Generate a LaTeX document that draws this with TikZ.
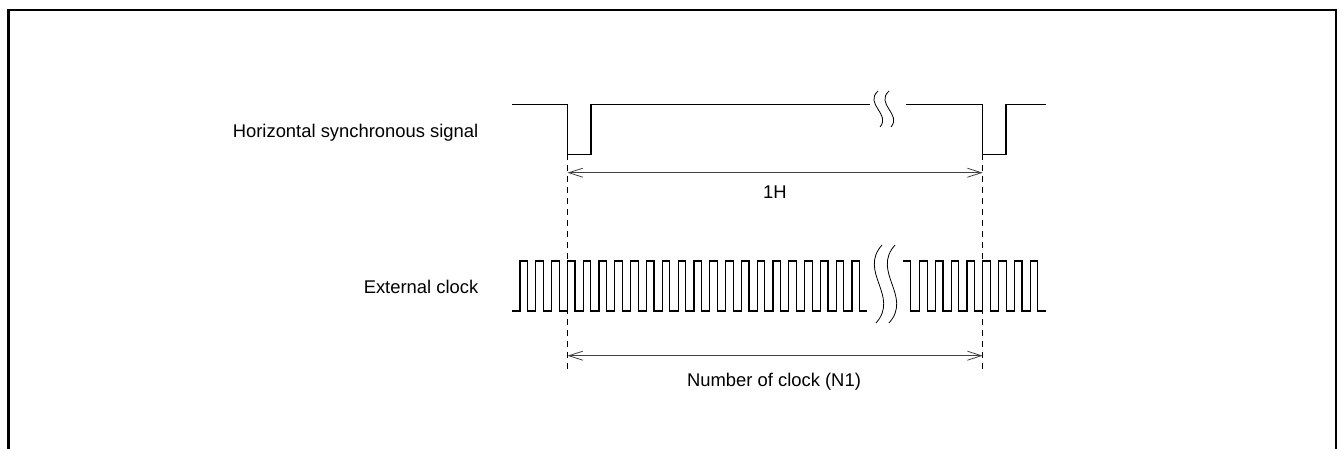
\documentclass[tikz,border=0pt]{standalone}
\usepackage{fontspec}
\setmainfont{Liberation Sans}
\usetikzlibrary{arrows.meta}
\tikzset{
  signal/.style={line width=1.2pt},
  guide/.style={line width=0.9pt,dash pattern=on 6pt off 5pt},
  span/.style={line width=0.8pt,black!75,
    {Straight Barb[length=14pt,width=9pt]}-{Straight Barb[length=14pt,width=9pt]}},
  breakmark/.style={line width=0.8pt},
}
\begin{document}
\begin{tikzpicture}[x=1pt,y=-1pt,font=\fontsize{18.4}{21}\selectfont]
  \useasboundingbox (0,0) rectangle (1339,448);
  \draw[line width=2.2pt] (8.5,10) rectangle (1336,470);
  %% Labels
  \node[anchor=base east,inner sep=0pt] (hsync) at (478.5,137.3) {Horizontal synchronous signal};
  \node[anchor=base east,inner sep=0pt] (extclk) at (478.5,293) {External clock};
  %% Horizontal synchronous signal
  \draw[signal] (512.3,104.3) -- (567.5,104.3) -- (567.5,154.3) -- (591,154.3)
    -- (591,104.3) -- (870,104.3);
  \draw[signal] (905.7,104.3) -- (982.7,104.3) -- (982.7,154.3) -- (1006,154.3)
    -- (1006,104.3) -- (1045.7,104.3);
  \foreach \dx in {0,11}
    \draw[breakmark,xshift=\dx] (878,91) .. controls (864,104) and (891,114) .. (880,127);
  %% External clock
  \draw[signal] (512,311) \foreach \k in {0,...,21} {
      -- ({520+15.81*\k},311) -- ++(0,-50) -- ++(7.6,0) -- ++(0,50) } -- (867,311);
  \draw[signal] (903,261) -- (910.7,261) -- (910.7,311) \foreach \k in {0,...,7} {
      -- ({919.5+15.8*\k},311) -- ++(0,-50) -- ++(7.6,0) -- ++(0,50) } -- (1046,311);
  \foreach \dx in {0,13}
    \draw[breakmark,xshift=\dx] (882,245) .. controls (858,272) and (900,296) .. (876,323);
  %% Guides
  \coordinate (top1) at (567.5,154.3);
  \coordinate (top2) at (982.7,154.3);
  \coordinate (bot1) at (567.5,372);
  \coordinate (bot2) at (982.7,372);
  \draw[guide] (top1) -- (bot1);
  \draw[guide] (top2) -- (bot2);
  %% Spans
  \coordinate (h1) at (567.5,172.7);
  \coordinate (h2) at (982.7,172.7);
  \coordinate (n1) at (567.5,355.7);
  \coordinate (n2) at (982.7,355.7);
  \draw[span] (h1) -- (h2);
  \draw[span] (n1) -- (n2);
  \node[anchor=base,inner sep=0pt] (onehlbl) at (775,198.3) {1H};
  \node[anchor=base,inner sep=0pt] (nclklbl) at (774,386) {Number of clock (N1)};
\end{tikzpicture}
\end{document}
